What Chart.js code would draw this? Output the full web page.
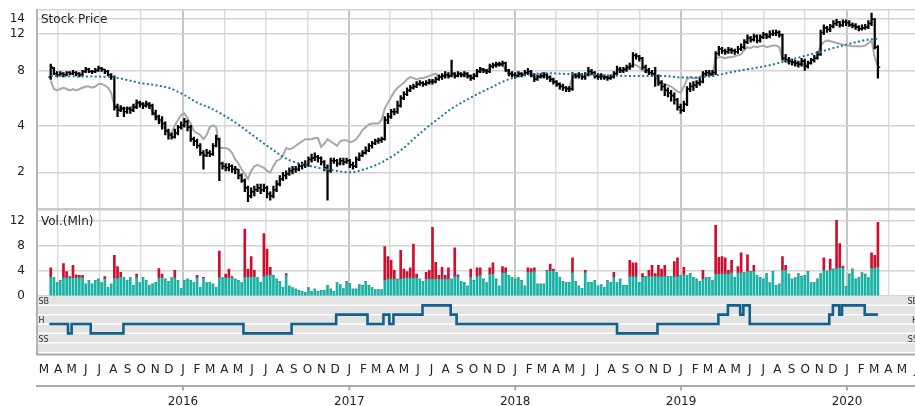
<!DOCTYPE html>
<html>
<head>
<meta charset="utf-8">
<script src="https://cdn.jsdelivr.net/npm/chart.js@4/dist/chart.umd.min.js"></script>
<style>
  html, body { margin: 0; padding: 0; background: #fff; }
  canvas { display: block; }
</style>
</head>
<body>
<canvas id="chart" width="915" height="406"></canvas>
<script>
// weekly bars, first week starts 2015-03-16
const firstWeek = '2015-03-16';

const opens = [
  7.4, 8.2, 7.7, 7.6, 7.7, 7.6, 7.8, 7.7, 7.8, 7.7,
  7.6, 7.9, 8.1, 7.9, 7.9, 8.0, 8.2, 8.1, 7.9, 7.6,
  7.4, 5.1, 4.9, 5.0, 4.8, 5.0, 4.9, 5.1, 5.4, 5.3,
  5.2, 5.3, 5.2, 4.7, 4.5, 4.3, 4.1, 3.7, 3.5, 3.4,
  3.6, 3.9, 4.0, 4.2, 3.9, 3.3, 3.2, 3.0, 2.7, 2.6,
  2.7, 2.65, 3.0, 3.3, 2.3, 2.2, 2.15, 2.2, 2.1, 2.1,
  1.9, 1.75, 1.55, 1.35, 1.45, 1.5, 1.55, 1.5, 1.55, 1.4,
  1.35, 1.5, 1.65, 1.8, 1.9, 1.95, 2.05, 2.1, 2.1, 2.2,
  2.25, 2.25, 2.45, 2.5, 2.55, 2.5, 2.35, 2.15, 2.05, 2.4,
  2.4, 2.3, 2.4, 2.35, 2.4, 2.25, 2.2, 2.45, 2.6, 2.7,
  2.8, 3.0, 3.1, 3.2, 3.25, 3.3, 4.3, 4.5, 4.8, 4.8,
  5.2, 5.7, 6.0, 6.3, 6.5, 6.6, 6.8, 6.9, 6.8, 6.9,
  7.0, 7.0, 7.2, 7.4, 7.5, 7.6, 7.5, 7.7, 7.5, 7.7,
  7.6, 7.7, 7.5, 7.3, 7.5, 7.9, 8.1, 8.0, 7.9, 8.4,
  8.5, 8.6, 8.6, 8.7, 8.0, 7.7, 7.6, 7.5, 7.7, 7.6,
  7.8, 7.9, 7.6, 7.2, 7.4, 7.5, 7.6, 7.4, 7.2, 7.0,
  6.8, 6.6, 6.5, 6.4, 6.4, 7.6, 7.5, 7.6, 7.4, 7.6,
  7.9, 7.8, 7.5, 7.4, 7.5, 7.4, 7.3, 7.4, 7.7, 8.1,
  8.0, 8.1, 8.3, 8.4, 9.5, 9.4, 9.2, 8.3, 8.0, 7.8,
  7.7, 7.5, 6.9, 6.6, 6.3, 6.1, 5.9, 5.6, 5.1, 4.9,
  5.3, 6.4, 6.6, 6.7, 6.9, 7.0, 7.7, 7.8, 7.7, 7.8,
  9.7, 10.2, 10.0, 9.9, 10.1, 10.0, 9.9, 10.2, 10.4, 11.0,
  11.5, 11.3, 11.7, 11.2, 11.6, 11.9, 11.7, 12.0, 12.1, 12.2,
  11.9, 9.2, 9.0, 8.9, 8.8, 8.7, 8.6, 8.9, 8.4, 8.7,
  9.0, 9.2, 9.6, 12.2, 12.8, 12.6, 13.0, 13.4, 13.6, 13.2,
  13.6, 13.5, 13.2, 13.1, 12.9, 12.7, 12.8, 12.9, 13.4, 14.0,
  10.4
];
const highs = [
  8.6, 8.3, 7.9, 7.9, 7.8, 7.9, 7.9, 8.0, 7.9, 7.8,
  8.0, 8.3, 8.2, 8.0, 8.2, 8.4, 8.3, 8.1, 8.0, 7.7,
  7.5, 5.3, 5.2, 5.1, 5.1, 5.1, 5.3, 5.6, 5.5, 5.4,
  5.5, 5.4, 5.3, 4.9, 4.6, 4.5, 4.2, 3.8, 3.6, 3.8,
  4.0, 4.2, 4.4, 4.3, 4.0, 3.4, 3.3, 3.1, 2.8, 2.85,
  2.8, 3.1, 3.5, 3.35, 2.35, 2.3, 2.3, 2.25, 2.2, 2.1,
  1.95, 1.8, 1.6, 1.55, 1.6, 1.65, 1.65, 1.65, 1.6, 1.45,
  1.6, 1.75, 1.9, 2.0, 2.05, 2.15, 2.2, 2.2, 2.3, 2.35,
  2.4, 2.55, 2.65, 2.7, 2.6, 2.55, 2.4, 2.25, 2.5, 2.5,
  2.45, 2.5, 2.5, 2.5, 2.45, 2.35, 2.55, 2.7, 2.8, 2.95,
  3.1, 3.2, 3.3, 3.35, 3.4, 4.5, 4.7, 4.95, 5.0, 5.5,
  5.9, 6.2, 6.5, 6.7, 6.8, 7.0, 7.1, 7.0, 7.1, 7.2,
  7.2, 7.4, 7.6, 7.7, 7.9, 7.8, 9.0, 7.8, 7.9, 7.8,
  7.9, 7.8, 7.6, 7.7, 8.1, 8.3, 8.2, 8.1, 8.6, 8.7,
  8.8, 8.8, 8.9, 8.8, 8.1, 7.9, 7.8, 7.9, 7.8, 8.0,
  8.2, 8.0, 7.7, 7.6, 7.7, 7.8, 7.7, 7.5, 7.3, 7.1,
  6.9, 6.8, 6.6, 6.6, 7.8, 7.7, 7.8, 7.7, 7.8, 8.3,
  8.1, 7.9, 7.7, 7.7, 7.6, 7.5, 7.6, 7.9, 8.4, 8.3,
  8.3, 8.5, 8.7, 9.8, 9.7, 9.5, 9.3, 8.5, 8.2, 8.0,
  8.3, 7.6, 7.1, 6.8, 6.5, 6.3, 6.1, 5.7, 5.3, 5.5,
  6.6, 6.9, 7.0, 7.1, 7.3, 7.9, 8.0, 8.0, 8.0, 9.9,
  10.5, 10.4, 10.2, 10.4, 10.3, 10.2, 10.5, 10.8, 11.3, 11.9,
  11.7, 12.0, 11.9, 11.9, 12.2, 12.1, 12.4, 12.5, 12.5, 12.4,
  12.0, 9.6, 9.3, 9.1, 9.0, 8.9, 9.2, 9.1, 8.9, 9.2,
  9.5, 9.9, 12.5, 13.2, 13.0, 13.3, 13.8, 14.0, 13.7, 13.9,
  13.9, 13.8, 13.5, 13.4, 13.1, 13.2, 13.3, 13.8, 14.9, 14.1,
  10.6
];
const lows = [
  7.2, 7.6, 7.4, 7.5, 7.4, 7.5, 7.6, 7.6, 7.5, 7.4,
  7.5, 7.8, 7.8, 7.7, 7.8, 7.9, 7.9, 7.7, 7.5, 7.2,
  4.9, 4.5, 4.8, 4.5, 4.7, 4.7, 4.8, 5.0, 5.1, 5.0,
  5.1, 5.0, 4.6, 4.3, 4.1, 3.8, 3.5, 3.3, 3.3, 3.35,
  3.5, 3.8, 3.9, 3.7, 3.2, 3.0, 2.9, 2.6, 2.1, 2.55,
  2.55, 2.6, 2.95, 1.75, 2.1, 2.05, 2.05, 2.0, 1.95, 1.8,
  1.7, 1.45, 1.22, 1.3, 1.35, 1.45, 1.4, 1.45, 1.3, 1.25,
  1.3, 1.45, 1.6, 1.75, 1.8, 1.9, 1.95, 2.0, 2.05, 2.1,
  2.15, 2.2, 2.35, 2.4, 2.35, 2.25, 2.05, 1.25, 2.0, 2.3,
  2.2, 2.25, 2.25, 2.3, 2.15, 2.1, 2.15, 2.4, 2.55, 2.65,
  2.75, 2.9, 3.05, 3.1, 3.15, 3.25, 4.1, 4.4, 4.6, 4.7,
  5.1, 5.6, 5.9, 6.2, 6.4, 6.5, 6.7, 6.6, 6.7, 6.8,
  6.8, 6.9, 7.1, 7.2, 7.3, 7.3, 7.4, 7.3, 7.4, 7.4,
  7.4, 7.3, 7.1, 7.2, 7.4, 7.8, 7.8, 7.7, 7.8, 8.2,
  8.3, 8.4, 8.4, 7.9, 7.5, 7.4, 7.3, 7.4, 7.4, 7.5,
  7.6, 7.4, 7.0, 7.1, 7.3, 7.3, 7.2, 7.0, 6.8, 6.6,
  6.4, 6.3, 6.2, 6.2, 6.3, 7.3, 7.3, 7.2, 7.2, 7.5,
  7.6, 7.3, 7.2, 7.2, 7.2, 7.1, 7.2, 7.3, 7.6, 7.8,
  7.8, 7.9, 8.1, 8.3, 9.1, 8.9, 8.1, 7.8, 7.6, 7.5,
  6.6, 6.7, 6.3, 5.9, 5.8, 5.5, 5.3, 4.9, 4.7, 4.8,
  5.2, 6.2, 6.3, 6.5, 6.7, 6.9, 7.5, 7.5, 7.5, 7.6,
  9.5, 9.7, 9.6, 9.7, 9.7, 9.6, 9.7, 10.0, 10.2, 10.8,
  11.0, 11.1, 10.9, 11.0, 11.4, 11.4, 11.5, 11.8, 11.8, 11.6,
  9.0, 8.8, 8.6, 8.5, 8.4, 8.3, 8.4, 8.0, 8.2, 8.6,
  8.8, 9.1, 9.5, 11.9, 12.2, 12.3, 12.8, 13.1, 12.9, 13.0,
  13.1, 13.0, 12.8, 12.6, 12.4, 12.5, 12.6, 12.7, 13.1, 10.2,
  7.3
];
const closes = [
  8.3, 7.7, 7.6, 7.7, 7.6, 7.8, 7.7, 7.8, 7.7, 7.6,
  7.9, 8.1, 7.9, 7.9, 8.0, 8.2, 8.1, 7.9, 7.6, 7.4,
  5.1, 4.9, 5.0, 4.8, 5.0, 4.9, 5.1, 5.4, 5.3, 5.2,
  5.3, 5.2, 4.7, 4.5, 4.3, 4.1, 3.7, 3.5, 3.4, 3.6,
  3.9, 4.0, 4.2, 3.9, 3.3, 3.2, 3.0, 2.7, 2.6, 2.7,
  2.65, 3.0, 3.3, 2.3, 2.2, 2.15, 2.2, 2.1, 2.1, 1.9,
  1.75, 1.55, 1.35, 1.45, 1.5, 1.55, 1.5, 1.55, 1.4, 1.35,
  1.5, 1.65, 1.8, 1.9, 1.95, 2.05, 2.1, 2.1, 2.2, 2.25,
  2.25, 2.45, 2.5, 2.55, 2.5, 2.35, 2.15, 2.05, 2.4, 2.4,
  2.3, 2.4, 2.35, 2.4, 2.25, 2.2, 2.45, 2.6, 2.7, 2.8,
  3.0, 3.1, 3.2, 3.25, 3.3, 4.3, 4.5, 4.8, 4.8, 5.2,
  5.7, 6.0, 6.3, 6.5, 6.6, 6.8, 6.9, 6.8, 6.9, 7.0,
  7.0, 7.2, 7.4, 7.5, 7.6, 7.5, 7.7, 7.5, 7.7, 7.6,
  7.7, 7.5, 7.3, 7.5, 7.9, 8.1, 8.0, 7.9, 8.4, 8.5,
  8.6, 8.6, 8.7, 8.0, 7.7, 7.6, 7.5, 7.7, 7.6, 7.8,
  7.9, 7.6, 7.2, 7.4, 7.5, 7.6, 7.4, 7.2, 7.0, 6.8,
  6.6, 6.5, 6.4, 6.4, 7.6, 7.5, 7.6, 7.4, 7.6, 7.9,
  7.8, 7.5, 7.4, 7.5, 7.4, 7.3, 7.4, 7.7, 8.1, 8.0,
  8.1, 8.3, 8.4, 9.5, 9.4, 9.2, 8.3, 8.0, 7.8, 7.7,
  7.5, 6.9, 6.6, 6.3, 6.1, 5.9, 5.6, 5.1, 4.9, 5.3,
  6.4, 6.6, 6.7, 6.9, 7.0, 7.7, 7.8, 7.7, 7.8, 9.7,
  10.2, 10.0, 9.9, 10.1, 10.0, 9.9, 10.2, 10.4, 11.0, 11.5,
  11.3, 11.7, 11.2, 11.6, 11.9, 11.7, 12.0, 12.1, 12.2, 11.9,
  9.2, 9.0, 8.9, 8.8, 8.7, 8.6, 8.9, 8.4, 8.7, 9.0,
  9.2, 9.6, 12.2, 12.8, 12.6, 13.0, 13.4, 13.6, 13.2, 13.6,
  13.5, 13.2, 13.1, 12.9, 12.7, 12.8, 12.9, 13.4, 14.0, 10.4,
  8.3
];

// grey comparison line, weekly
const peerLine = [
  7.1, 6.4, 6.3, 6.4, 6.5, 6.4, 6.3, 6.4, 6.3, 6.4,
  6.5, 6.6, 6.6, 6.5, 6.6, 6.8, 6.8, 6.7, 6.5, 6.1,
  5.2, 5.0, 5.1, 4.9, 5.1, 5.0, 5.2, 5.4, 5.4, 5.3,
  5.3, 5.2, 4.8, 4.5, 4.3, 4.1, 3.8, 3.6, 3.6, 4.0,
  4.3, 4.6, 4.7, 4.4, 4.1, 3.7, 3.6, 3.5, 3.3, 3.5,
  3.9, 4.0, 3.9, 2.9, 2.9, 2.9, 2.85, 2.7, 2.45, 2.3,
  2.1, 1.95, 1.8, 2.05, 2.2, 2.25, 2.2, 2.15, 2.05, 2.0,
  2.2, 2.4, 2.45, 2.6, 2.9, 2.85, 2.9, 3.0, 3.1, 3.2,
  3.3, 3.3, 3.3, 3.35, 3.35, 2.95, 3.1, 3.3, 3.2, 3.1,
  3.0, 3.2, 3.25, 3.25, 3.15, 3.2, 3.3, 3.5, 3.75, 3.9,
  4.05, 4.1, 4.1, 4.1, 4.3, 5.0, 5.4, 5.8, 6.2, 6.5,
  6.7, 6.9, 7.2, 7.4, 7.3, 7.2, 7.3, 7.3, 7.4, 7.5,
  7.6, 7.7, 7.4, 7.5, 7.6, 7.5, 7.6, 7.5, 7.6, 7.6,
  7.6, 7.5, 7.3, 7.5, 7.8, 8.0, 8.0, 7.9, 8.3, 8.4,
  8.5, 8.5, 8.6, 8.0, 7.7, 7.6, 7.5, 7.6, 7.6, 7.7,
  7.8, 7.6, 7.3, 7.4, 7.5, 7.5, 7.4, 7.2, 7.0, 6.9,
  6.7, 6.6, 6.5, 6.5, 7.4, 7.4, 7.5, 7.4, 7.5, 7.7,
  7.7, 7.5, 7.4, 7.4, 7.4, 7.3, 7.4, 7.5, 7.9, 7.9,
  8.0, 8.1, 8.2, 8.6, 8.5, 8.3, 8.0, 7.9, 7.8, 7.6,
  7.5, 7.1, 6.9, 6.8, 6.7, 6.6, 6.4, 6.2, 6.1, 6.6,
  7.2, 7.4, 7.3, 7.3, 7.4, 7.6, 7.6, 7.6, 7.6, 9.2,
  9.3, 9.3, 9.2, 9.3, 9.3, 9.4, 9.5, 9.6, 10.1, 10.4,
  10.3, 10.5, 10.4, 10.5, 10.6, 10.4, 10.5, 10.6, 10.6, 10.4,
  9.1, 8.9, 8.8, 8.7, 8.6, 8.5, 8.8, 8.4, 8.6, 8.9,
  9.1, 9.5, 10.6, 11.0, 11.2, 11.1, 11.0, 10.9, 10.8, 10.7,
  10.6, 10.6, 10.5, 10.5, 10.5, 10.5, 10.6, 10.9, 11.2, 9.3,
  8.4
];

// dotted moving average, read at these week numbers
const maWeeks  = [0, 10, 19, 24, 28, 33, 37, 42, 46, 50, 56, 63, 69, 75, 82, 88, 94, 100, 105, 110, 114, 118,
                  122, 126, 130, 134, 139, 143, 147, 151, 156, 162, 171, 181, 192, 199, 207, 215, 226, 236, 242, 250, 257, 260];
const maValues = [7.5, 7.45, 7.4, 7.15, 6.9, 6.7, 6.5, 5.95, 5.4, 5.05, 4.4, 3.55, 2.9, 2.42, 2.2, 2.08, 2.0, 2.15, 2.4, 2.8, 3.3, 3.85,
                  4.4, 5.0, 5.5, 6.0, 6.6, 7.1, 7.45, 7.65, 7.75, 7.67, 7.6, 7.5, 7.5, 7.35, 7.45, 7.9, 8.5, 9.35, 9.9, 10.7, 11.3, 11.4];

// volume (millions): base part and the red part stacked on top
const volBase = [
  3.0, 3.0, 2.1, 2.5, 2.9, 2.9, 2.9, 2.9, 2.9, 2.9,
  2.9, 1.9, 2.5, 1.9, 2.5, 2.7, 2.1, 2.7, 1.4, 1.9,
  2.8, 2.8, 3.0, 3.0, 2.5, 2.9, 1.7, 3.0, 2.1, 3.0,
  2.5, 1.7, 1.9, 2.2, 2.9, 2.9, 2.7, 2.3, 2.9, 2.9,
  2.5, 1.2, 2.5, 2.7, 2.5, 2.1, 2.9, 1.4, 2.8, 2.1,
  2.2, 1.9, 1.4, 2.9, 2.9, 2.9, 2.9, 2.9, 2.7, 2.5,
  2.1, 3.0, 3.0, 3.0, 3.1, 3.0, 2.2, 3.1, 3.3, 3.3,
  3.3, 2.7, 2.3, 1.4, 3.3, 1.6, 1.3, 1.1, 0.9, 0.75,
  0.55, 1.3, 0.75, 1.1, 0.75, 0.9, 0.9, 1.7, 1.1, 0.75,
  2.1, 1.8, 1.2, 2.3, 2.0, 1.1, 1.1, 1.8, 1.7, 2.3,
  1.7, 1.3, 1.0, 1.0, 1.0, 2.5, 2.7, 2.7, 2.7, 2.7,
  2.7, 2.85, 2.85, 2.85, 2.85, 2.85, 2.7, 2.3, 2.7, 2.7,
  2.7, 2.7, 2.7, 2.7, 2.7, 2.7, 2.7, 3.1, 3.1, 2.3,
  2.2, 1.6, 3.0, 2.5, 3.1, 3.3, 2.7, 2.1, 3.5, 3.5,
  2.7, 1.6, 3.7, 3.7, 3.3, 3.0, 2.7, 2.9, 2.5, 1.6,
  3.8, 3.8, 3.9, 1.9, 1.9, 1.9, 4.0, 4.0, 4.0, 3.8,
  3.0, 2.3, 2.2, 2.2, 3.7, 2.3, 1.6, 1.2, 3.7, 2.2,
  2.2, 2.5, 1.6, 1.8, 1.4, 2.45, 2.2, 3.0, 2.1, 2.7,
  1.7, 1.7, 3.1, 3.1, 3.1, 2.2, 3.0, 3.1, 3.1, 3.1,
  3.1, 3.1, 3.1, 3.1, 3.1, 3.1, 3.1, 3.1, 3.3, 3.4,
  3.3, 3.5, 3.0, 2.7, 2.3, 2.7, 3.0, 3.0, 2.5, 3.5,
  3.5, 3.5, 3.5, 3.5, 3.7, 3.0, 3.7, 3.7, 3.7, 3.9,
  3.9, 3.9, 3.3, 3.0, 2.7, 3.6, 2.1, 3.9, 1.7, 1.9,
  4.1, 4.1, 3.5, 2.7, 2.9, 3.6, 3.1, 3.3, 3.95, 2.1,
  2.2, 2.7, 3.6, 4.1, 4.0, 4.1, 4.3, 4.4, 4.5, 4.5,
  1.5, 3.5, 4.3, 2.7, 3.0, 3.7, 3.5, 2.9, 4.4, 4.5,
  4.6
];
const volExtra = [
  1.5, 0, 0, 0, 2.3, 1.0, 0.2, 2.0, 0.5, 0.4,
  0.4, 0, 0, 0, 0, 0, 0, 0.4, 0, 0,
  3.7, 1.9, 0.8, 0, 0, 0, 0, 0.5, 0, 0,
  0, 0, 0, 0, 1.5, 0.6, 0, 0, 0, 1.2,
  0, 0, 0, 0, 0, 0, 0.4, 0, 0.2, 0,
  0, 0, 0, 4.3, 0, 0.6, 1.4, 0.2, 0, 0,
  0, 7.7, 1.3, 3.3, 1.0, 0, 0, 6.9, 4.2, 1.3,
  0, 0, 0, 0, 0.3, 0, 0, 0, 0, 0,
  0, 0, 0, 0, 0, 0, 0, 0, 0, 0,
  0, 0, 0, 0, 0, 0, 0, 0, 0, 0,
  0, 0, 0, 0, 0, 5.4, 3.6, 3.0, 1.4, 0,
  4.6, 1.45, 1.05, 1.65, 5.45, 0.65, 0, 0, 1.1, 1.4,
  8.3, 2.7, 0.6, 1.9, 0.6, 1.8, 0, 4.6, 0.3, 0,
  0, 0, 1.3, 0, 1.4, 1.2, 0, 0, 1.0, 1.8,
  0, 0, 1.0, 0.8, 0, 0, 0, 0, 0, 0,
  0.7, 0.6, 0.6, 0, 0, 0, 0.1, 1.1, 0.3, 0,
  0, 0, 0, 0, 2.4, 0, 0, 0, 0.4, 0,
  0, 0, 0, 0, 0, 0, 0, 0.8, 0, 0,
  0, 0, 2.6, 2.2, 2.2, 0, 0.6, 0, 1.0, 1.8,
  0.5, 1.8, 1.2, 1.8, 0, 0, 2.4, 3.0, 0, 1.2,
  0, 0.1, 0, 0, 0, 1.4, 0, 0, 0, 7.8,
  2.7, 2.8, 2.6, 0.6, 2.0, 0, 1.0, 3.2, 0, 2.7,
  0, 1.0, 0, 0, 0, 0, 0, 0, 0, 0,
  2.2, 0.8, 0, 0, 0, 0, 0, 0, 0, 0,
  0, 0, 0, 2.0, 0, 1.8, 0, 7.7, 3.9, 0.3,
  0, 0, 0, 0, 0, 0, 0, 0, 2.5, 2.0,
  7.2
];

// rating changes (step line)
const ratingDates  = ['2015-03-13', '2015-04-23', '2015-05-01', '2015-06-12', '2015-08-23', '2016-05-13', '2016-08-27',
                      '2016-12-03', '2017-02-10', '2017-03-17', '2017-03-30', '2017-04-08', '2017-06-11', '2017-08-12',
                      '2017-08-25', '2018-08-13', '2018-11-10', '2019-03-24', '2019-04-14', '2019-05-11', '2019-05-18',
                      '2019-06-01', '2019-11-23', '2019-12-01', '2019-12-15', '2019-12-21', '2020-02-09', '2020-03-09'];
const ratingLevels = ['H', 'S', 'H', 'S', 'H', 'S', 'H',
                      'B', 'H', 'B', 'H', 'B', 'SB', 'B',
                      'H', 'S', 'H', 'B', 'SB', 'B', 'SB',
                      'H', 'B', 'SB', 'B', 'SB', 'B', 'B'];
const ratingScale  = { SB: 2, B: 1, H: 0, S: -1, SS: -2 };
const ratingLabels = ['SB', 'H', 'SS'];

const priceTicks = [2, 4, 8, 12, 14];
const priceRange = [1.057, 15.38];
const volTicks = [0, 4, 8, 12];
const volMax = 13.84;
const monthLetters = ['J', 'F', 'M', 'A', 'M', 'J', 'J', 'A', 'S', 'O', 'N', 'D'];
const yearLabels = [2016, 2017, 2018, 2019, 2020];

// ---------------------------------------------------------------------------

const DAY = 86400000;
const EPOCH = Date.UTC(2015, 0, 1);
function dayOf(s) {
    const [y, m, d] = s.split('-').map(Number);
    return (Date.UTC(y, m - 1, d) - EPOCH) / DAY;
}
const monthDay = (y, m) => (Date.UTC(y, m, 1) - EPOCH) / DAY;

const week0 = dayOf(firstWeek);
const weekDays = closes.map((_, i) => week0 + 7 * i);

// the price axis is compressed like the original (between linear and log)
const POW = 0.227;
const tr = v => Math.pow(v, POW);

const FONT = 'DejaVu Sans';
const INK = '#222';
const GRID = '#d4d4d4';

// x range in days since 2015-01-01 (left edge mid Feb 2015, right edge early Jun 2020)
const X_MIN = 43.8, X_MAX = 1975.6;

const quarterTicks = [];
for (let y = 2015; y <= 2020; y++) {
    for (const m of [0, 3, 6, 9]) {
        const d = monthDay(y, m);
        if (d > X_MIN && d < X_MAX) quarterTicks.push({ value: d, major: m === 0 });
    }
}

const panels = {
    id: 'panels',
    beforeDatasetsDraw(chart) {
        const { ctx, chartArea: a, scales: { yRat } } = chart;
        ctx.save();
        ctx.fillStyle = '#e3e3e3';
        ctx.fillRect(a.left + 1, yRat.top, a.right - a.left - 1, yRat.bottom - yRat.top);
        ctx.strokeStyle = '#fff';
        ctx.lineWidth = 1.5;
        for (const v of [2, 1, 0, -1, -2]) {
            const y = yRat.getPixelForValue(v);
            ctx.beginPath();
            ctx.moveTo(a.left + 1, y);
            ctx.lineTo(a.right, y);
            ctx.stroke();
        }
        ctx.restore();
    },
    afterDatasetDraw(chart, args) {
        if (args.index !== 0) return;
        const { ctx, scales: { x, yPrice } } = chart;
        ctx.save();
        ctx.strokeStyle = '#000';
        ctx.lineWidth = 1.6;
        ctx.beginPath();
        weekDays.forEach((d, i) => {
            const px = x.getPixelForValue(d);
            const yo = yPrice.getPixelForValue(tr(opens[i]));
            const yc = yPrice.getPixelForValue(tr(closes[i]));
            ctx.moveTo(px - 2.3, yo); ctx.lineTo(px, yo);
            ctx.moveTo(px, yc); ctx.lineTo(px + 2.3, yc);
        });
        ctx.stroke();
        ctx.restore();
    },
    afterDraw(chart) {
        const { ctx, chartArea: a, scales: { x, yPrice, yVol, yRat } } = chart;
        ctx.save();
        ctx.fillStyle = INK;
        ctx.textBaseline = 'alphabetic';

        ctx.font = `12px "${FONT}"`;
        ctx.textAlign = 'left';
        ctx.fillText('Stock Price', a.left + 4, yPrice.top + 13.3);
        ctx.fillText('Vol.(Mln)', a.left + 4, yVol.top + 15.5);

        // rating names on both sides
        ctx.font = `8px "${FONT}"`;
        ctx.fillStyle = '#333';
        for (const name of ratingLabels) {
            const y = yRat.getPixelForValue(ratingScale[name]) - 1;
            ctx.textAlign = 'left';
            ctx.fillText(name, a.left + 1.5, y);
            ctx.textAlign = 'right';
            ctx.fillText(name, a.right + 3, y);
        }

        // time axis: month letters row and year row
        const monthLine = x.top + 2.5, yearLine = x.top + 34;
        ctx.strokeStyle = '#a9a9a9';
        ctx.lineWidth = 2;
        ctx.beginPath();
        ctx.moveTo(a.left - 1, monthLine); ctx.lineTo(a.right, monthLine);
        ctx.moveTo(a.left - 1, yearLine); ctx.lineTo(a.right, yearLine);
        ctx.moveTo(a.left, a.bottom); ctx.lineTo(a.left, monthLine);
        for (const yr of yearLabels) {
            const px = x.getPixelForValue(monthDay(yr, 0));
            ctx.moveTo(px, yearLine); ctx.lineTo(px, yearLine + 4.5);
        }
        ctx.stroke();

        ctx.fillStyle = INK;
        ctx.font = `12px "${FONT}"`;
        ctx.textAlign = 'center';
        for (let yr = 2015; yr <= 2020; yr++) {
            for (let m = 0; m < 12; m++) {
                const d = monthDay(yr, m);
                if (d < X_MIN || d > X_MAX + 20) continue;
                ctx.fillText(monthLetters[m], x.getPixelForValue(d), x.top + 21);
            }
        }
        for (const yr of yearLabels) {
            ctx.fillText(String(yr), x.getPixelForValue(monthDay(yr, 0)), x.top + 52.5);
        }
        ctx.restore();
    }
};

const tickFont = { family: FONT, size: 12 };
// labels sit 12px left of the plot; an invisible tick mark makes that gap
const sideGrid = { drawTicks: true, tickLength: 12, tickColor: 'rgba(0,0,0,0)' };

new Chart(document.getElementById('chart'), {
    type: 'bar',
    data: {
        datasets: [
            {
                label: 'High-Low',
                data: weekDays.map((d, i) => ({ x: d, y: [tr(lows[i]), tr(highs[i])] })),
                yAxisID: 'yPrice',
                backgroundColor: '#000',
                borderWidth: 0,
                barThickness: 1.6,
                order: 1
            },
            {
                type: 'line',
                label: 'Peer',
                data: weekDays.map((d, i) => ({ x: d, y: tr(peerLine[i]) })),
                yAxisID: 'yPrice',
                borderColor: '#a8a8a8',
                borderWidth: 2,
                pointRadius: 0,
                tension: 0,
                order: 2
            },
            {
                type: 'line',
                label: 'Average',
                data: maWeeks.map((w, k) => ({ x: weekDays[w], y: tr(maValues[k]) })),
                yAxisID: 'yPrice',
                borderColor: '#1b78a6',
                borderWidth: 2,
                borderDash: [2, 2.4],
                pointRadius: 0,
                cubicInterpolationMode: 'monotone',
                order: 0
            },
            {
                label: 'Volume',
                data: weekDays.map((d, i) => ({ x: d, y: volBase[i] })),
                yAxisID: 'yVol',
                backgroundColor: '#19b2a4',
                borderWidth: 0,
                barThickness: 2,
                order: 0
            },
            {
                label: 'Volume extra',
                data: weekDays.map((d, i) => ({ x: d, y: volExtra[i] })),
                yAxisID: 'yVol',
                backgroundColor: '#cf0e2e',
                borderWidth: 0,
                barThickness: 2,
                order: 0
            },
            {
                type: 'line',
                label: 'Rating',
                data: ratingDates.map((s, k) => ({ x: dayOf(s), y: ratingScale[ratingLevels[k]] })),
                yAxisID: 'yRat',
                borderColor: '#0f628b',
                borderWidth: 2.6,
                pointRadius: 0,
                stepped: true,
                order: 0
            }
        ]
    },
    options: {
        responsive: false,
        animation: false,
        devicePixelRatio: 1,
        events: [],
        layout: { padding: { top: 10, left: 0, right: 0, bottom: 0 }, autoPadding: false },
        plugins: { legend: { display: false }, tooltip: { enabled: false } },
        scales: {
            x: {
                type: 'linear',
                min: X_MIN,
                max: X_MAX,
                offset: false,
                stacked: true,
                weight: 0,
                afterBuildTicks: s => { s.ticks = quarterTicks.map(t => ({ ...t })); },
                afterFit: s => { s.height = 54; },
                ticks: { display: false },
                grid: {
                    offset: false,
                    drawTicks: false,
                    color: c => (c.tick && c.tick.major) ? '#c6c6c6' : '#dedede',
                    lineWidth: c => (c.tick && c.tick.major) ? 2 : 1.5
                },
                border: { display: false }
            },
            yPrice: {
                type: 'linear',
                position: 'left',
                stack: 'panels',
                stackWeight: 199.5,
                weight: 3,
                stacked: false,
                min: tr(priceRange[0]),
                max: tr(priceRange[1]),
                afterBuildTicks: s => {
                    s.ticks = priceTicks.map(v => ({ value: tr(v) })).concat([{ value: tr(priceRange[1]) }]);
                },
                afterFit: s => { s.width = 37; },
                ticks: {
                    callback: (v, i) => i < priceTicks.length ? String(priceTicks[i]) : '',
                    font: tickFont, color: INK, padding: 0, autoSkip: false
                },
                grid: { color: GRID, lineWidth: 1.5, ...sideGrid },
                border: { color: '#b3b3b3', width: 2 }
            },
            yVol: {
                type: 'linear',
                position: 'left',
                stack: 'panels',
                stackWeight: 86.5,
                weight: 2,
                stacked: true,
                min: 0,
                max: volMax,
                afterBuildTicks: s => {
                    s.ticks = volTicks.map(v => ({ value: v })).concat([{ value: volMax }]);
                },
                afterFit: s => { s.width = 37; },
                ticks: {
                    callback: (v, i) => i < volTicks.length ? String(volTicks[i]) : '',
                    font: tickFont, color: INK, padding: 0, autoSkip: false
                },
                grid: {
                    ...sideGrid,
                    color: c => c.index === volTicks.length ? '#c8c8c8' : GRID,
                    lineWidth: c => c.index === volTicks.length ? 2.5 : 1.5
                },
                border: { color: '#b3b3b3', width: 2 }
            },
            yRat: {
                type: 'linear',
                position: 'left',
                stack: 'panels',
                stackWeight: 56,
                weight: 1,
                stacked: false,
                min: -3,
                max: 3,
                afterFit: s => { s.width = 37; },
                ticks: { display: false },
                grid: { display: false },
                border: { color: '#b3b3b3', width: 2 }
            }
        }
    },
    plugins: [panels]
});
</script>
</body>
</html>
